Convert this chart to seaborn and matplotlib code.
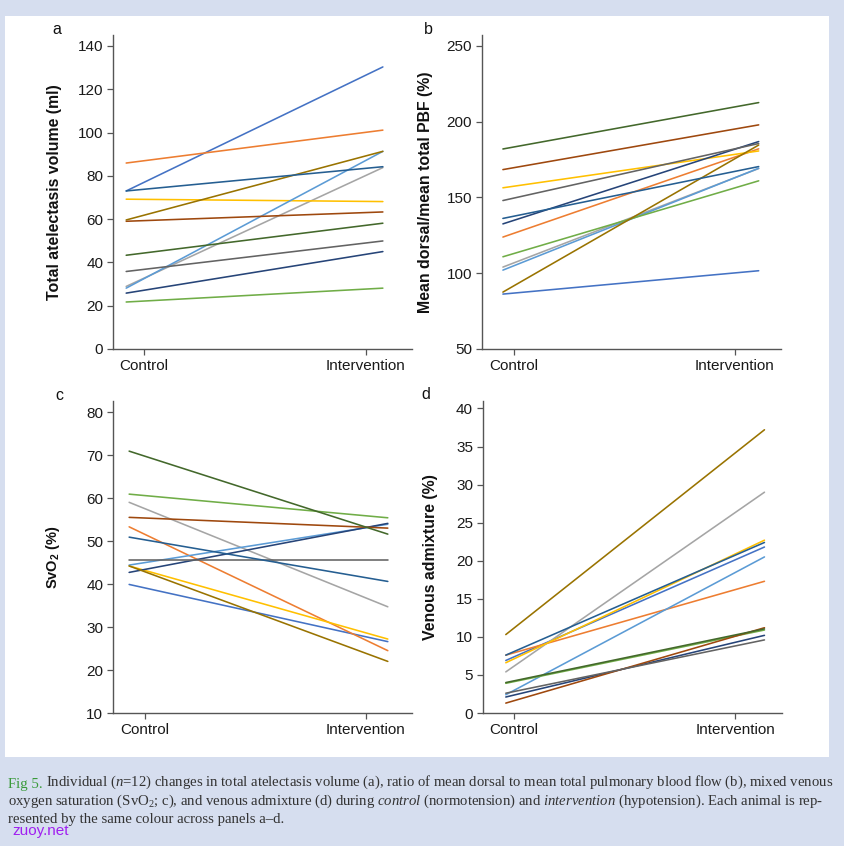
import numpy as np
import pandas as pd
import matplotlib
matplotlib.use('Agg')
import matplotlib.pyplot as plt
import seaborn as sns
from matplotlib.patches import Rectangle

# one colour per animal (same across panels)
animals = ['A1', 'A2', 'A3', 'A4', 'A5', 'A6', 'A7', 'A8', 'A9', 'A10', 'A11', 'A12']
colours = ['#4472C4', '#ED7D31', '#A5A5A5', '#FFC000', '#5B9BD5', '#70AD47',
           '#264478', '#9E480E', '#636363', '#997300', '#255E91', '#43682B']
conditions = ['Control', 'Intervention']

# values per animal: control, intervention
atel_control = [73.0, 85.9, 28.9, 69.2, 28.1, 21.7, 25.8, 59.0, 35.8, 59.6, 73.0, 43.3]
atel_interv = [130.3, 101.1, 83.8, 68.1, 91.3, 28.1, 45.0, 63.3, 49.9, 91.3, 84.2, 58.1]

pbf_control = [86.2, 123.8, 104.0, 156.3, 102.0, 110.8, 132.5, 168.3, 147.9, 87.5, 136.1, 181.9]
pbf_interv = [101.6, 182.0, 169.0, 180.6, 169.2, 160.9, 186.8, 197.8, 185.5, 184.5, 170.3, 212.5]

svo2_control = [39.9, 53.3, 59.0, 44.2, 44.4, 60.9, 42.7, 55.5, 45.6, 44.2, 50.9, 70.9]
svo2_interv = [26.6, 24.5, 34.7, 27.2, 53.9, 55.4, 54.1, 53.0, 45.6, 22.0, 40.6, 51.6]

venous_control = [6.9, 7.6, 5.4, 6.6, 2.4, 3.9, 2.1, 1.3, 2.6, 10.3, 7.6, 4.0]
venous_interv = [21.8, 17.3, 29.0, 22.7, 20.5, 10.9, 10.2, 11.2, 9.6, 37.2, 22.4, 11.05]

panels = [
    ('a', 'Total atelectasis volume (ml)', atel_control, atel_interv, (0, 145), np.arange(0, 141, 20)),
    ('b', 'Mean dorsal/mean total PBF (%)', pbf_control, pbf_interv, (50, 257), np.arange(50, 251, 50)),
    ('c', 'SvO$_\\mathbf{2}$ (%)', svo2_control, svo2_interv, (10, 82.6), np.arange(10, 81, 10)),
    ('d', 'Venous admixture (%)', venous_control, venous_interv, (0, 41), np.arange(0, 41, 5)),
]

# layout: axes rect, tick positions, xlim (lines run 0 -> 1), ylabel x, letter y
layout = {
    'a': ([0.134, 0.5875, 0.354, 0.371], [0.070, 0.934], (-0.051, 1.113), 62, 30),
    'b': ([0.571, 0.5875, 0.354, 0.371], [0.043, 0.906], (-0.082, 1.086), 433, 30),
    'c': ([0.134, 0.1572, 0.354, 0.369], [0.062, 0.915], (-0.062, 1.093), 62, 395),
    'd': ([0.572, 0.1572, 0.354, 0.369], [0.031, 0.888], (-0.089, 1.066), 438, 394),
}

sns.set_style('white')
plt.rcParams['font.family'] = ['Liberation Sans', 'DejaVu Sans']
plt.rcParams['mathtext.fontset'] = 'custom'
plt.rcParams['mathtext.rm'] = 'Liberation Serif'
plt.rcParams['mathtext.it'] = 'Liberation Serif:italic'
plt.rcParams['mathtext.bf'] = 'Liberation Sans:bold'

W, H = 844, 846
fig = plt.figure(figsize=(W / 100, H / 100), dpi=100, facecolor='#d6deef')
fig.add_artist(Rectangle((5 / W, 1 - 757 / H), 824 / W, 741 / H, transform=fig.transFigure,
                         facecolor='white', edgecolor='none', zorder=0))

spine_col = '#555555'
for letter, ylabel, ctrl, interv, ylim, yticks in panels:
    rect, xt, xl, ylab_x, let_y = layout[letter]
    ax = fig.add_axes(rect)
    ax.set_facecolor('none')
    df = pd.DataFrame({
        'animal': animals * 2,
        'pos': [0] * len(animals) + [1] * len(animals),
        'value': list(ctrl) + list(interv),
    })
    sns.lineplot(data=df, x='pos', y='value', hue='animal', hue_order=animals,
                 palette=colours, legend=False, linewidth=1.15, ax=ax)
    ax.set_xlim(*xl)
    ax.set_ylim(*ylim)
    ax.set_xticks(xt)
    ax.set_xticklabels(conditions, fontsize=11, color='#1a1a1a')
    ax.set_yticks(yticks)
    ax.set_yticklabels([str(v) for v in yticks], fontsize=11, color='#1a1a1a')
    ax.set_xlabel('')
    lab_size = 10.5 if letter == 'c' else 11.4
    ax.set_ylabel(ylabel, fontsize=lab_size, fontweight='bold', color='#111111')
    ax.yaxis.set_label_coords((ylab_x - rect[0] * W) / (rect[2] * W), 0.5)
    ax.tick_params(axis='both', which='both', direction='out', length=4, width=0.9,
                   color=spine_col, left=True, bottom=True, pad=3)
    sns.despine(ax=ax)
    for s in ['left', 'bottom']:
        ax.spines[s].set_color(spine_col)
        ax.spines[s].set_linewidth(1.0)
    let_x = {'a': 57, 'b': 428, 'c': 59, 'd': 426}[letter]
    fig.text(let_x / W, 1 - let_y / H, letter, fontsize=11.5, color='#111111',
             ha='center', va='center')

# caption
cap = fig.add_axes([0, 0, 1, 1])
cap.axis('off')
cap.set_zorder(-1)
serif = dict(family='Liberation Serif', fontsize=10.6, color='#333333')
t = cap.annotate('Fig 5. ', xy=(8, H - 791), xycoords='figure pixels',
                 va='bottom', ha='left', **dict(serif, color='#3a9a3a'))
cap.annotate(r'Individual ($\mathit{n}$=12) changes in total atelectasis volume (a), ratio of mean '
             r'dorsal to mean total pulmonary blood flow (b), mixed venous',
             xy=(1, 0), xycoords=t, va='bottom', ha='left', **serif)
cap.annotate(r'oxygen saturation (SvO$_2$; c), and venous admixture (d) during $\mathit{control}$ '
             r'(normotension) and $\mathit{intervention}$ (hypotension). Each animal is rep-',
             xy=(8, H - 810), xycoords='figure pixels', va='bottom', ha='left', **serif)
cap.annotate('resented by the same colour across panels a\u2013d.',
             xy=(8, H - 826), xycoords='figure pixels', va='bottom', ha='left', **serif)
fig.text(12 / W, 1 - 835 / H, 'zuoy.net', fontsize=11, color='#a020f0', va='baseline',
         family='Liberation Sans')

fig.savefig('out.png', dpi=100, facecolor=fig.get_facecolor())
